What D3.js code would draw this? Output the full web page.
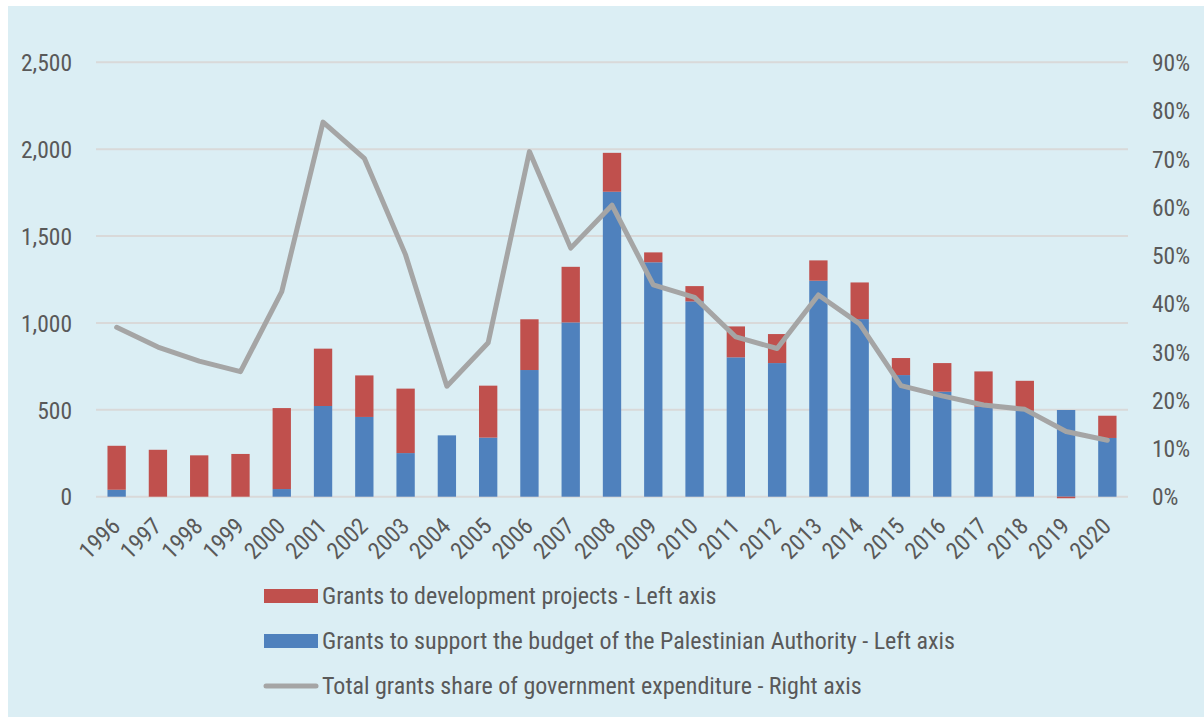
<!DOCTYPE html>
<html>
<head>
<meta charset="utf-8">
<script src="https://cdn.jsdelivr.net/npm/d3@7"></script>
<style>
  html, body { margin: 0; padding: 0; background: #ffffff; }
  svg { display: block; }
  text { font-family: "Liberation Sans Narrow", "Roboto Condensed", "DejaVu Sans Condensed", "Liberation Sans", sans-serif; font-stretch: condensed; fill: #595959; }
</style>
</head>
<body>
<svg id="chart" width="1204" height="717"></svg>
<script>
// Years on the category axis
const years = ["1996","1997","1998","1999","2000","2001","2002","2003","2004","2005","2006","2007","2008",
               "2009","2010","2011","2012","2013","2014","2015","2016","2017","2018","2019","2020"];

// Grants to support the budget of the Palestinian Authority (left axis)
const budgetSupport = [40, 0, 0, 0, 44, 522, 459, 251, 353, 340, 729, 1003, 1755,
                       1349, 1124, 802, 769, 1243, 1022, 700, 604, 518, 495, 499, 338];

// Grants to development projects (left axis)
const development = [253, 270, 238, 246, 466, 330, 239, 371, 0, 299, 292, 320, 224,
                     57, 88, 178, 167, 117, 211, 98, 165, 203, 172, -9, 128];

// Total grants share of government expenditure, % (right axis)
const grantsShare = [35.1, 31.0, 28.1, 25.9, 42.5, 77.6, 70.1, 50.1, 22.9, 31.9, 71.5, 51.5, 60.4,
                     43.9, 41.3, 33.1, 30.7, 41.8, 35.8, 23.0, 20.9, 19.0, 18.1, 13.5, 11.7];

// Tick values
const leftTicks = [0, 500, 1000, 1500, 2000, 2500];
const rightTicks = [0, 10, 20, 30, 40, 50, 60, 70, 80, 90];

const legendLabels = [
  "Grants to development projects - Left axis",
  "Grants to support the budget of the Palestinian Authority - Left axis",
  "Total grants share of government expenditure - Right axis"
];

const colors = { dev: "#c0504d", budget: "#4f81bd", share: "#a5a5a5", grid: "#d9d9d9" };

const svg = d3.select("#chart");

// Panel background
svg.append("rect").attr("x", 8).attr("y", 6).attr("width", 1196).attr("height", 711).attr("fill", "#dbeef4");

const plot = { left: 96, right: 1128, top: 62.3, bottom: 496.7 };

const x = d3.scaleBand().domain(years).range([plot.left, plot.right]).paddingInner(0.556).paddingOuter(0.278);
const yL = d3.scaleLinear().domain([0, 2500]).range([plot.bottom, plot.top]);
const yR = d3.scaleLinear().domain([0, 90]).range([plot.bottom, plot.top]);

// Horizontal gridlines
svg.append("g").selectAll("line").data(leftTicks).join("line")
  .attr("x1", plot.left).attr("x2", plot.right)
  .attr("y1", d => yL(d)).attr("y2", d => yL(d))
  .attr("stroke", colors.grid).attr("stroke-width", 2);

// Left axis
const leftAxis = svg.append("g").attr("transform", `translate(72,0)`)
  .call(d3.axisLeft(yL).tickValues(leftTicks).tickSize(0).tickPadding(0).tickFormat(d3.format(",")));
leftAxis.select(".domain").remove();
leftAxis.selectAll("text").style("font-size", "23.5px").attr("dy", "0.35em");

// Right axis
const rightAxis = svg.append("g").attr("transform", `translate(1152,0)`)
  .call(d3.axisRight(yR).tickValues(rightTicks).tickSize(0).tickPadding(0).tickFormat(d => d + "%"));
rightAxis.select(".domain").remove();
rightAxis.selectAll("text").style("font-size", "23.5px").attr("dy", "0.35em");

// Bottom axis labels, rotated
const bottomAxis = svg.append("g").attr("transform", `translate(0,${plot.bottom})`)
  .call(d3.axisBottom(x).tickSize(0).tickPadding(0));
bottomAxis.select(".domain").remove();
bottomAxis.selectAll("text")
  .style("font-size", "23.5px")
  .attr("text-anchor", "end")
  .attr("y", 0)
  .attr("dy", 0)
  .attr("transform", "translate(5,31) rotate(-45)");

// Stacked bars
const rows = years.map((yr, i) => ({ year: yr, budget: budgetSupport[i], dev: development[i] }));
const barG = svg.append("g");
barG.selectAll("rect.budget").data(rows).join("rect").attr("class", "budget")
  .attr("x", d => x(d.year)).attr("width", x.bandwidth())
  .attr("y", d => yL(d.budget)).attr("height", d => yL(0) - yL(d.budget))
  .attr("fill", colors.budget);
barG.selectAll("rect.dev").data(rows).join("rect").attr("class", "dev")
  .attr("x", d => x(d.year)).attr("width", x.bandwidth())
  .attr("y", d => d.dev >= 0 ? yL(d.budget + d.dev) : yL(0))
  .attr("height", d => d.dev >= 0 ? yL(d.budget) - yL(d.budget + d.dev) : yL(d.dev) - yL(0))
  .attr("fill", colors.dev);

// Share line
const line = d3.line()
  .x((d, i) => x(years[i]) + x.bandwidth() / 2)
  .y(d => yR(d));
svg.append("path").datum(grantsShare)
  .attr("d", line).attr("fill", "none")
  .attr("stroke", colors.share).attr("stroke-width", 5)
  .attr("stroke-linejoin", "round").attr("stroke-linecap", "round");

// Legend
const legend = svg.append("g");
const legendY = [596, 641, 686];
legendLabels.forEach((label, i) => {
  const g = legend.append("g").attr("transform", `translate(264,${legendY[i]})`);
  if (i < 2) {
    g.append("rect").attr("x", 0).attr("y", -7).attr("width", 54).attr("height", 14)
      .attr("fill", i === 0 ? colors.dev : colors.budget);
  } else {
    g.append("line").attr("x1", 2).attr("x2", 52).attr("y1", 0).attr("y2", 0)
      .attr("stroke", colors.share).attr("stroke-width", 5).attr("stroke-linecap", "round");
  }
  g.append("text").attr("x", 58).attr("y", 0).attr("dy", "0.35em")
    .style("font-size", "24px").text(label);
});
</script>
</body>
</html>
